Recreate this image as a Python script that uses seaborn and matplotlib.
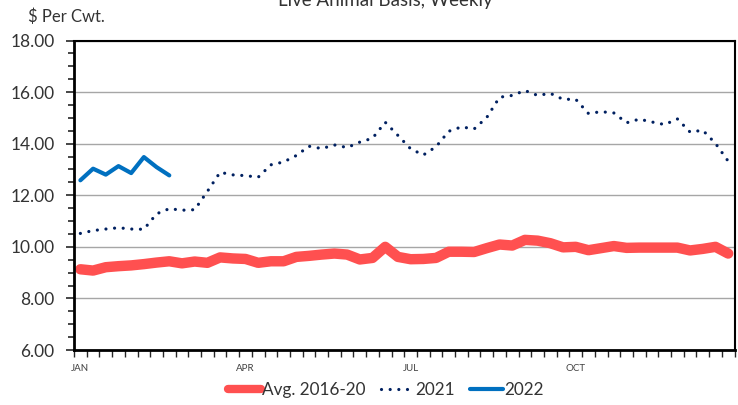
import numpy as np
import pandas as pd
import matplotlib
matplotlib.use("Agg")
import matplotlib.pyplot as plt
from matplotlib.ticker import FixedLocator, FixedFormatter, MultipleLocator
import seaborn as sns

weeks = list(range(52))

avg_2016_20 = [9.13, 9.08, 9.21, 9.25, 9.28, 9.33, 9.39, 9.44, 9.36, 9.43,
               9.38, 9.59, 9.55, 9.53, 9.38, 9.44, 9.44, 9.61, 9.65, 9.70,
               9.74, 9.70, 9.51, 9.57, 10.00, 9.61, 9.52, 9.53, 9.57, 9.81,
               9.81, 9.80, 9.95, 10.09, 10.05, 10.27, 10.24, 10.14, 9.98, 10.00,
               9.87, 9.95, 10.03, 9.96, 9.97, 9.97, 9.97, 9.97, 9.86, 9.92,
               10.00, 9.74]

y2021 = [10.52, 10.63, 10.69, 10.74, 10.69, 10.68, 11.28, 11.48, 11.42, 11.44,
         12.15, 12.89, 12.79, 12.76, 12.70, 13.18, 13.29, 13.54, 13.90, 13.81,
         13.95, 13.85, 14.06, 14.21, 14.83, 14.32, 13.80, 13.56, 13.88, 14.48,
         14.65, 14.57, 15.02, 15.80, 15.87, 16.06, 15.87, 15.95, 15.72, 15.72,
         15.17, 15.24, 15.19, 14.81, 14.95, 14.84, 14.74, 14.96, 14.45, 14.52,
         14.01, 13.32]

y2022 = [12.58, 13.03, 12.80, 13.13, 12.86, 13.48, 13.09, 12.77]

month_pos = [0, 13, 26, 39]
month_labels = ["JAN", "APR", "JUL", "OCT"]

sns.set_style("white")
plt.rcParams["font.family"] = ["Lato", "DejaVu Sans"]
txt = "#333333"

fig = plt.figure(figsize=(7.38, 4.05), dpi=100)
ax = fig.add_axes([0.1003, 0.1358, 0.8950, 0.7642])

df_avg = pd.DataFrame({"week": weeks, "val": avg_2016_20})
df_21 = pd.DataFrame({"week": weeks, "val": y2021})
df_22 = pd.DataFrame({"week": weeks[:len(y2022)], "val": y2022})

sns.lineplot(data=df_avg, x="week", y="val", ax=ax, color="#FF5050", lw=7.5,
             solid_capstyle="round", solid_joinstyle="round", label="Avg. 2016-20")
sns.lineplot(data=df_21, x="week", y="val", ax=ax, color="#002060", lw=2.3,
             label="2021")
ax.lines[-1].set_dashes((0.01, 2.7))
ax.lines[-1].set_dash_capstyle("round")
sns.lineplot(data=df_22, x="week", y="val", ax=ax, color="#0070C0", lw=3,
             solid_joinstyle="round", label="2022")

ax.set_xlim(-0.5, 51.5)
ax.set_ylim(6, 18)
ax.set_xlabel("")
ax.set_ylabel("")

ax.yaxis.set_major_locator(MultipleLocator(2))
ax.yaxis.set_minor_locator(MultipleLocator(0.5))
ax.set_yticklabels([f"{v:.2f}" for v in ax.get_yticks()])
ax.tick_params(axis="y", which="major", direction="out", length=6, width=1.2,
               labelsize=12.5, labelcolor=txt, pad=8, left=True)
ax.tick_params(axis="y", which="minor", direction="out", length=4, width=1.2, left=True)
ax.grid(axis="y", color="#a6a6a6", lw=1)

ax.xaxis.set_major_locator(FixedLocator(np.arange(-0.5, 52, 1)))
ax.xaxis.set_major_formatter(FixedFormatter([""] * 53))
ax.xaxis.set_minor_locator(FixedLocator(month_pos))
ax.xaxis.set_minor_formatter(FixedFormatter(month_labels))
ax.tick_params(axis="x", which="major", direction="out", length=5, width=1, bottom=True)
ax.tick_params(axis="x", which="minor", length=0, labelsize=7, labelcolor="#404040", pad=10)

for s in ax.spines.values():
    s.set_visible(True)
    s.set_color("black")
    s.set_linewidth(1.5)
ax.spines["left"].set_linewidth(2)
ax.spines["bottom"].set_linewidth(2)

leg = ax.legend(loc="center", bbox_to_anchor=(0.4725, -0.13), ncol=3, frameon=False,
                fontsize=12.3, handlelength=1.9, columnspacing=0.9, handletextpad=0.1,
                labelcolor=txt)
leg.get_lines()[0].set_linewidth(6)

fig.text(0.038, 0.958, "$ Per Cwt.", fontsize=12, color=txt, va="center")
fig.text(0.522, 0.985, "Live Animal Basis, Weekly", fontsize=13.5, color=txt,
         ha="center", va="baseline")

fig.savefig("out.png", dpi=100)
